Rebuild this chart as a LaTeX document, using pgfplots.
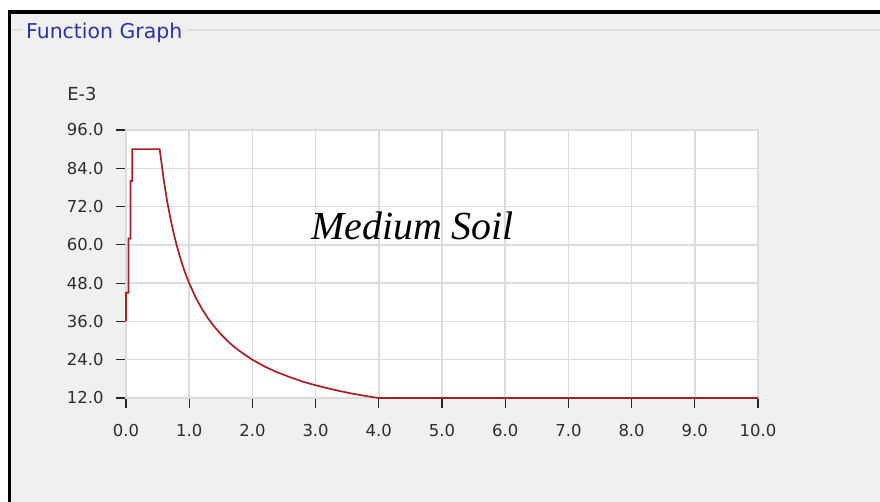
\documentclass[border=0pt]{standalone}
\usepackage{fontspec}
\usepackage{pgfplots}
\pgfplotsset{compat=1.18}
\setmainfont{Liberation Serif}
\newfontfamily\dejavu{DejaVu Sans}
\definecolor{panel}{RGB}{240,240,240}
\definecolor{gridc}{RGB}{220,220,220}
\definecolor{curve}{RGB}{168,32,38}
\definecolor{titleblue}{RGB}{48,48,176}
\definecolor{ticktext}{RGB}{45,45,45}

\begin{document}
\begin{tikzpicture}
  \path[use as bounding box] (0bp,0bp) rectangle (880bp,502bp);
  % window frame
  \fill[white] (0bp,0bp) rectangle (880bp,502bp);
  \fill[panel] (9.5bp,0bp) rectangle (880bp,490bp);
  \draw[black, line width=3.5bp] (9.5bp,0bp) -- (9.5bp,490.2bp) -- (880bp,490.2bp);
  % group box
  \draw[black!13, line width=1.2bp] (12bp,472bp) -- (22bp,472bp);
  \draw[black!13, line width=1.2bp] (188bp,472bp) -- (880bp,472bp);
  \node[anchor=base west, inner sep=0pt, text=titleblue,
        font=\dejavu\fontsize{20.5}{20.5}\selectfont] at (26bp,463.5bp) {Function Graph};
  \node[anchor=center, inner sep=0pt, text=ticktext,
        font=\dejavu\fontsize{18}{18}\selectfont] at (82bp,408bp) {E-3};

  \begin{axis}[
      at={(126bp,104bp)}, anchor=south west,
      scale only axis,
      width=632bp, height=268bp,
      xmin=0, xmax=10, ymin=12, ymax=96,
      xtick={0,1,...,10},
      ytick={12,24,36,48,60,72,84,96},
      axis background/.style={fill=white},
      axis line style={draw=gridc, line width=1.5bp},
      grid=major,
      major grid style={draw=gridc, line width=1.5bp},
      tick align=outside,
      major tick length=10bp,
      tick style={draw=black!85, line width=1.2bp},
      xtick pos=bottom, ytick pos=left,
      /pgf/number format/assume math mode=true,
      /pgf/number format/.cd, fixed, fixed zerofill, precision=1, /pgfplots/.cd,
      ticklabel style={font=\dejavu\fontsize{16.5}{16.5}\selectfont, text=ticktext},
      xticklabel style={yshift=-13bp},
      yticklabel style={xshift=-9bp},
      clip=false,
    ]
    % design spectrum, medium soil (values x 1e-3)
    \addplot[curve, line width=1.7bp] coordinates {
      (0,36) (0,45) (0.04,45) (0.04,62) (0.07,62) (0.07,80) (0.1,80) (0.1,90)
      (0.533,90) (0.6,80) (0.65,73.8) (0.7,68.6) (0.75,64) (0.8,60)
      (0.85,56.5) (0.9,53.3) (0.95,50.5) (1.0,48) (1.1,43.6) (1.2,40)
      (1.3,36.9) (1.4,34.3) (1.5,32) (1.6,30) (1.7,28.2) (1.8,26.7)
      (1.9,25.3) (2.0,24) (2.2,21.8) (2.4,20) (2.6,18.5) (2.8,17.1)
      (3.0,16) (3.2,15) (3.4,14.1) (3.6,13.3) (3.8,12.6) (4.0,12)
      (10.0,12)
    };
  \end{axis}
  \node[anchor=base west, inner sep=0pt,
        font=\fontsize{40}{40}\selectfont\itshape] at (311bp,262.5bp) {Medium Soil};
\end{tikzpicture}
\end{document}
